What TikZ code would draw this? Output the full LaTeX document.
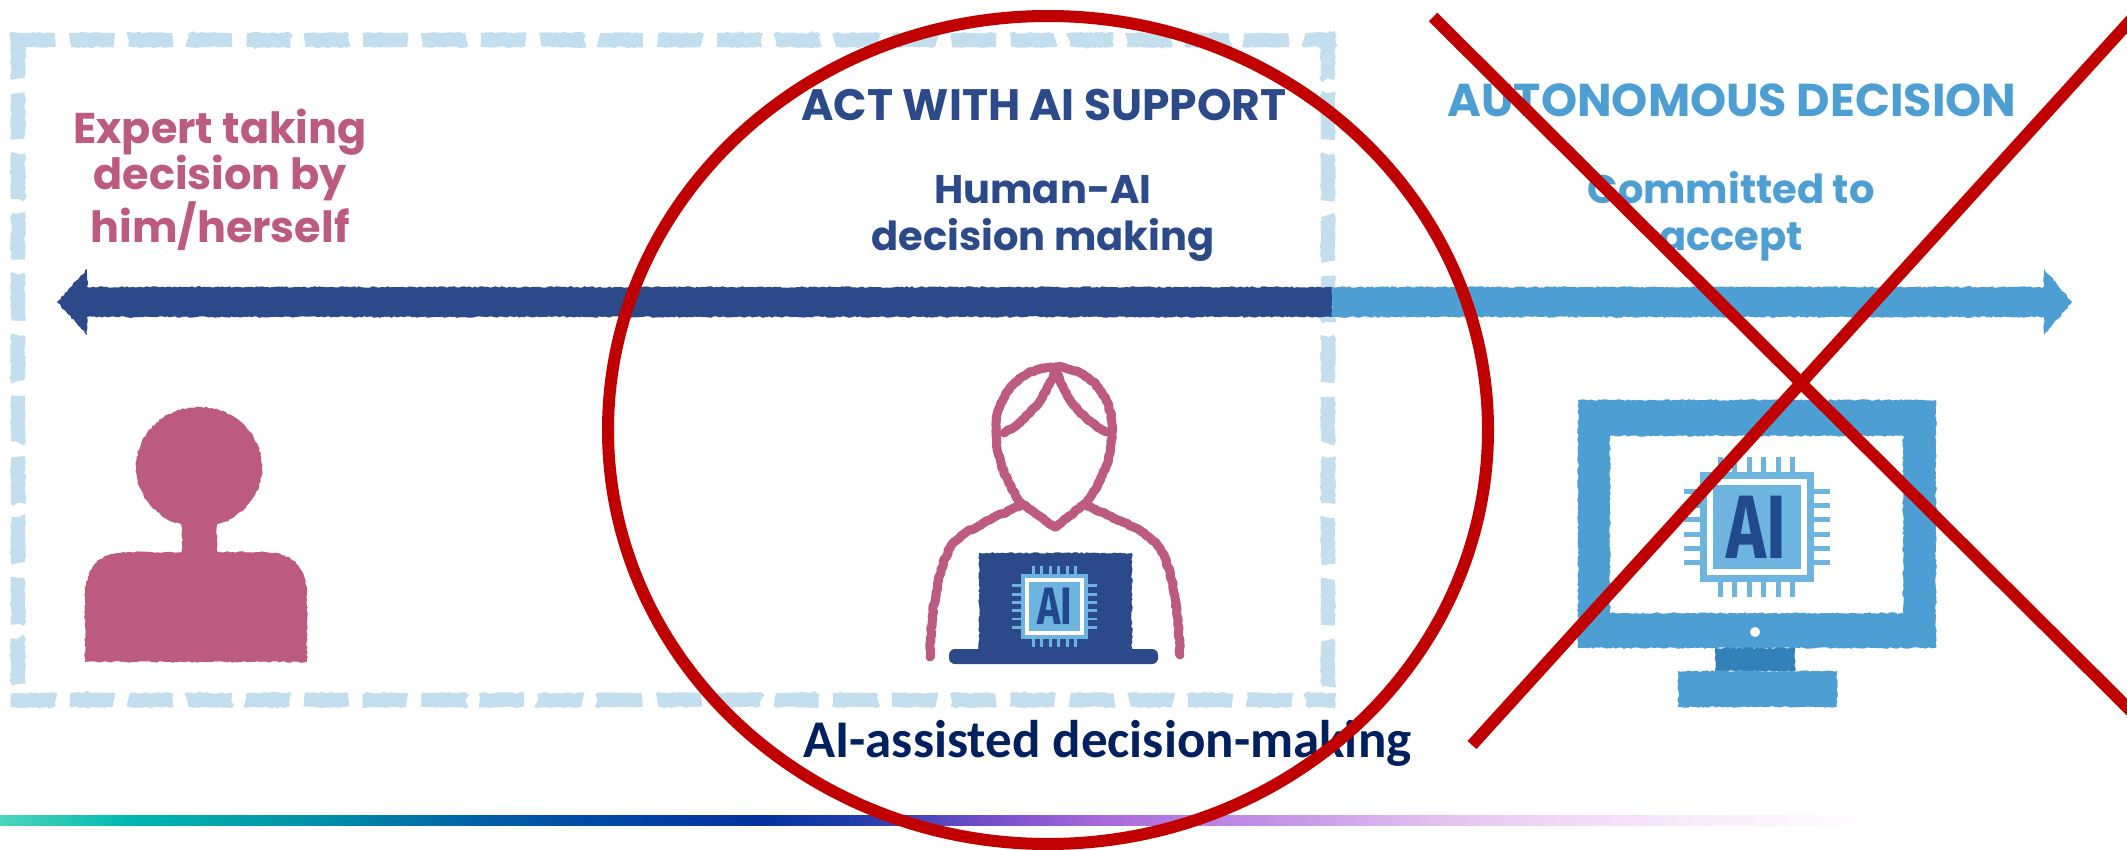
\documentclass[tikz,border=0pt]{standalone}
\usepackage{fontspec}
\usepackage{graphicx}
\usetikzlibrary{decorations.pathmorphing}
\newfontfamily\geofont{Poppins}
\newfontfamily\calfont{Carlito}
\newfontfamily\chipfont{Fira Sans}

\definecolor{pinkc}{HTML}{BC5A80}
\definecolor{navyarrow}{HTML}{2C4A8A}
\definecolor{skyc}{HTML}{4C9ED3}
\definecolor{dashc}{HTML}{C3DEEF}
\definecolor{standc}{HTML}{3381B9}
\definecolor{chipc}{HTML}{6DB4DF}
\definecolor{aic}{HTML}{214A8C}
\definecolor{redc}{HTML}{C00000}
\definecolor{captionc}{HTML}{002060}

\begin{document}
\begin{tikzpicture}[x=1pt,y=-1pt,
  rough/.style={decorate,decoration={random steps,segment length=2.5pt,amplitude=0.8pt}},
  dashbox/.style={draw=dashc,line width=14pt},
  headtext/.style={inner sep=0pt,align=center,anchor=base},
  outline/.style={draw=pinkc,line width=9pt,line cap=round,line join=round},
  cross/.style={draw=redc,line width=12pt},
  chip/.pic={
    \fill[chipc] (-57,-55) rectangle (57,55);
    \fill[white] (-50,-48) rectangle (50,48);
    \fill[chipc] (-44,-42) rectangle (44,42);
    \foreach \t in {-36,-21.6,-7.2,7.2,21.6,36} {
      \fill[chipc] (\t-2.5,-70) rectangle (\t+2.5,-55);
      \fill[chipc] (\t-2.5,55) rectangle (\t+2.5,70);
    }
    \foreach \t in {-35.5,-21.3,-7.1,7.1,21.3,35.5} {
      \fill[chipc] (-73,\t-2.5) rectangle (-57,\t+2.5);
      \fill[chipc] (57,\t-2.5) rectangle (73,\t+2.5);
    }
    \node[transform shape,inner sep=0pt,text=aic,
          font=\chipfont\bfseries\fontsize{90}{90}\selectfont] (-label) at (0,0)
          {\scalebox{0.75}[1]{AI}};
  }]
\useasboundingbox (0,0) rectangle (2127,850);
\fill[white] (0,0) rectangle (2127,850);

% gradient rule along the bottom
\foreach \xa/\ca/\xb/\cb in {
   0/4DD6BC/128/00B8B0, 128/00B8B0/320/0090A8, 320/0090A8/480/0060A5,
   480/0060A5/640/0042A5, 640/0042A5/760/0033A0, 760/0033A0/840/1A3AA8,
   840/1A3AA8/1000/7A50CC, 1000/7A50CC/1100/A868DC, 1100/A868DC/1300/C898E8,
   1300/C898E8/1400/DDB8EE, 1400/DDB8EE/1550/EFD8F5, 1550/EFD8F5/1700/F8ECFA,
   1700/F8ECFA/1880/FFFFFF} {
  \definecolor{ga}{HTML}{\ca}\definecolor{gb}{HTML}{\cb}
  \shade[left color=ga,right color=gb] (\xa-0.5,815) rectangle (\xb,825);
}

% dashed frame around the human side
\draw[dashbox,rough,dash pattern=on 45.86pt off 15pt] (11,40) -- (1335,40);
\draw[dashbox,rough,dash pattern=on 45.86pt off 15pt] (11,700) -- (1335,700);
\draw[dashbox,rough,dash pattern=on 47.64pt off 15pt] (18,33) -- (18,707);
\draw[dashbox,rough,dash pattern=on 47.64pt off 15pt] (1328,33) -- (1328,707);

% double-headed scale arrow
\fill[navyarrow,rough] (57,302) -- (87,269) -- (87,287) -- (1332,287)
  -- (1332,317) -- (87,317) -- (87,335) -- cycle;
\fill[skyc,rough] (1332,287) -- (2044,287) -- (2044,269) -- (2072,302)
  -- (2044,335) -- (2044,317) -- (1332,317) -- cycle;

% headings (multi-line nodes sit on the baseline of their last line)
\node[headtext,text=pinkc,font=\geofont\bfseries\fontsize{43}{46.5}\selectfont]
  (expert) at (220,243) {Expert taking\\decision by\\him/herself};
\node[headtext,text=navyarrow,font=\geofont\bfseries\fontsize{44}{47}\selectfont]
  (act) at (1044,121) {ACT WITH AI SUPPORT};
\node[headtext,text=navyarrow,font=\geofont\bfseries\fontsize{40}{47}\selectfont]
  (humanai) at (1043,251) {Human-AI\\decision making};
\node[headtext,text=skyc,font=\geofont\bfseries\fontsize{46}{47}\selectfont]
  (auto) at (1732,117) {AUTONOMOUS DECISION};
\node[headtext,text=skyc,font=\geofont\bfseries\fontsize{40}{47}\selectfont]
  (commit) at (1731,251) {Committed to\\accept};

% expert alone: filled silhouette
\fill[pinkc,rough] (199,467) ellipse [x radius=63,y radius=60];
\fill[pinkc,rough] (182,515) rectangle (217,556);
\fill[pinkc,rough] (85,662) -- (85,600) .. controls (85,562) and (100,552) .. (135,552)
  -- (257,552) .. controls (292,552) and (307,562) .. (307,600) -- (307,662) -- cycle;

% expert with a laptop: outlined figure
\draw[outline,rough] (1021,503) .. controls (1003,478) and (995,452) .. (996,425)
  .. controls (998,390) and (1025,367) .. (1055,367)
  .. controls (1085,367) and (1110,390) .. (1112,425)
  .. controls (1113,452) and (1105,478) .. (1086,503);
\draw[outline,rough] (1021,503) -- (1055,527) -- (1086,503);
\draw[outline,rough] (1055,370) .. controls (1047,395) and (1030,418) .. (1004,433);
\draw[outline,rough] (1056,370) .. controls (1064,395) and (1080,418) .. (1106,432);
\draw[outline,rough] (1021,505) .. controls (995,518) and (962,530) .. (950,548)
  .. controls (936,572) and (931,620) .. (930,657);
\draw[outline,rough] (1086,505) .. controls (1112,518) and (1148,530) .. (1160,548)
  .. controls (1174,572) and (1179,620) .. (1180,655);
\fill[navyarrow,rough] (979,553) rectangle (1132,652);
\fill[navyarrow,rounded corners=6pt] (949,649) rectangle (1158,664);
\pic[scale=0.585] (laptopchip) at (1054.5,606.5) {chip};

% autonomous computer
\fill[skyc,rough] (1578,400) rectangle (1936,648);
\fill[white,rough] (1610,436) rectangle (1903,613);
\fill[white] (1755,632) circle (5);
\fill[standc,rough] (1715,648) rectangle (1795,671);
\fill[skyc,rough] (1678,671) rectangle (1837,707);
\pic (screenchip) at (1756.5,527) {chip};

% caption
\node[inner sep=0pt,anchor=base west,text=captionc,
      font=\calfont\bfseries\fontsize{53}{60}\selectfont]
  (caption) at (803,757) {AI-assisted decision-making};

% red emphasis ring and strike-through
\draw[cross] (1048,430) ellipse [x radius=440,y radius=414];
\coordinate (xa1) at (1433,17);
\coordinate (xa2) at (2140,720);
\coordinate (xb1) at (1472,745);
\coordinate (xb2) at (2140,10);
\draw[cross] (xa1) -- (xa2);
\draw[cross] (xb1) -- (xb2);
\end{tikzpicture}
\end{document}
